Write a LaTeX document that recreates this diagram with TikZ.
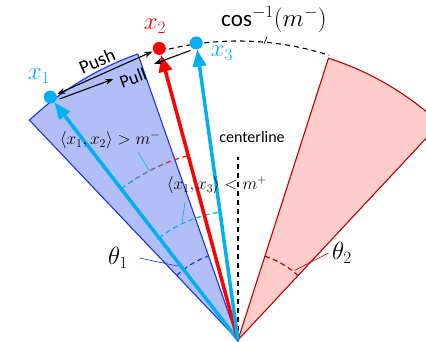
\documentclass[tikz,border=0pt]{standalone}
\usepackage{fontspec}
\setmainfont{Carlito}
\usepackage{xcolor}
\usetikzlibrary{arrows.meta,calc}

\definecolor{xcyan}{RGB}{0,176,240}
\definecolor{xred}{RGB}{255,0,0}
\definecolor{secblue}{RGB}{30,50,230}
\definecolor{secbluefill}{RGB}{178,190,248}
\definecolor{secred}{RGB}{192,0,0}
\definecolor{secredfill}{RGB}{255,204,204}

\begin{document}
\begin{tikzpicture}[x=1pt, y=1pt, dot/.style={circle, fill=#1, inner sep=0pt, minimum size=13pt}, vec/.style={draw=#1, line width=3.5pt, -{Triangle[length=17pt, width=13pt, fill=#1]}}, force/.style={line width=1.1pt, -{Stealth[length=8pt, width=6pt]}}, lbl/.style={font=\fontsize{26}{28}\selectfont, text=#1}, angarc/.style={#1, line width=1.2pt, dash pattern=on 5pt off 3.5pt}, leader/.style={#1, line width=0.6pt}]
\useasboundingbox (-238,-2) rectangle (188,340);
\clip (-238,-2) rectangle (188,340);
\coordinate (O) at (0,0);
\filldraw[fill=secbluefill, draw=secblue, line width=1.1pt] (O) -- (133.5:303) arc[start angle=133.5, end angle=109.3, radius=303] -- cycle;
\filldraw[fill=secredfill, draw=secred, line width=1.1pt] (O) -- (72.2:296) arc[start angle=72.2, end angle=47, radius=296] -- cycle;
\draw[black, line width=1.1pt, dash pattern=on 5pt off 4pt] (105.1:299) arc[start angle=105.1, end angle=72.2, radius=299];
\draw[black, line width=1.5pt, dash pattern=on 5pt off 4pt] (O) -- (0,183) coordinate (ctop);
\node[font=\fontsize{16}{18}\selectfont] (center) at (14,203) {centerline};
\draw[angarc=secblue] (133.5:89) arc[start angle=133.5, end angle=109.3, radius=89];
\draw[angarc=secred] (72.2:88) arc[start angle=72.2, end angle=47, radius=88];
\draw[angarc=xcyan] (127.7:129) arc[start angle=127.7, end angle=98, radius=129];
\foreach \k in {0,...,8}{
  \pgfmathsetmacro{\sa}{127.7-\k*2.6}
  \pgfmathsetmacro{\ea}{\sa-1.6}
  \pgfmathtruncatemacro{\mix}{100-\k*12.5}
  \draw[xcyan!\mix!xred, line width=1.2pt] (\sa:191) arc[start angle=\sa, end angle=\ea, radius=191];
}
\node[dot=xcyan] (x1) at (127.7:307) {};
\node[dot=xred] (x2) at (105.1:302) {};
\node[dot=xcyan] (x3) at (98:300) {};
\draw[vec=xcyan] (O) -- (x1);
\draw[vec=xred] (O) -- (x2);
\draw[vec=xcyan] (O) -- (x3);
\draw[force, {Stealth[length=8pt, width=6pt]}-{Stealth[length=8pt, width=6pt]}, shorten <=1pt, shorten >=1pt] (x1) -- (x2);
\draw[force] ($(x1)!8pt!(x3)+(1.7,-4.7)$) -- ($(x1)!0.42!(x3)+(1.7,-4.7)$);
\draw[force] ($(x3)!8pt!(x1)+(1.7,-4.7)$) -- ($(x3)!0.3!(x1)+(1.7,-4.7)$);
\node[font=\fontsize{19}{21}\selectfont, rotate=23.6, inner sep=0pt] (push) at (-141,279) {Push};
\node[font=\fontsize{18}{20}\selectfont, rotate=20.3, inner sep=0pt] (pull) at (-105,262) {Pull};
\node[lbl=xcyan] (lx1) at (-199,264) {$x_1$};
\node[lbl=xred] (lx2) at (-83,314) {$x_2$};
\node[lbl=xcyan] (lx3) at (-16,287) {$x_3$};
\node[font=\fontsize{23}{25}\selectfont] (lcos) at (36,320) {$\cos^{-1}(m^-)$};
\coordinate (cosend) at (85:297);
\draw[leader=black] ([xshift=-7pt]lcos.south) -- (cosend);
\node[font=\fontsize{17}{19}\selectfont] (lab12) at (-128,200) {$\langle x_1, x_2\rangle > m^-$};
\coordinate (arc12) at (117.6:191);
\draw[leader=xcyan] ([xshift=28pt]lab12.south) -- (arc12);
\node[font=\fontsize{17}{19}\selectfont] (lab13) at (-21,155) {$\langle x_1, x_3\rangle < m^+$};
\coordinate (arc13) at (115.8:129);
\draw[leader=xcyan] ([xshift=-32pt, yshift=-5pt]lab13.south) -- (arc13);
\node[font=\fontsize{23}{25}\selectfont] (lth1) at (-120,82) {$\theta_1$};
\coordinate (th1end) at (129:95);
\draw[leader=secblue] ([xshift=8pt]lth1.east) -- (th1end);
\node[font=\fontsize{23}{25}\selectfont] (lth2) at (104,87) {$\theta_2$};
\coordinate (th2end) at (50.8:90);
\draw[leader=secred] (lth2.west) -- (th2end);
\end{tikzpicture}
\end{document}
